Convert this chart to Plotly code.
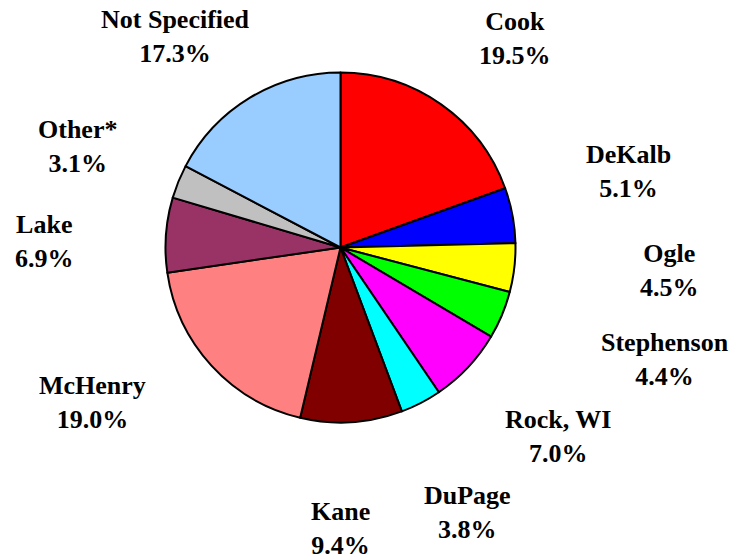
import math
import plotly.graph_objects as go

# ---- data ----
counties = ["Cook", "DeKalb", "Ogle", "Stephenson", "Rock, WI", "DuPage",
            "Kane", "McHenry", "Lake", "Other*", "Not Specified"]
shares = [19.5, 5.1, 4.5, 4.4, 7.0, 3.8, 9.4, 19.0, 6.9, 3.1, 17.3]
colors = ["#FF0000", "#0000FF", "#FFFF00", "#00FF00", "#FF00FF", "#00FFFF",
          "#800000", "#FF8080", "#993366", "#C0C0C0", "#99CCFF"]

# ---- layout / styling (label placement relative to slice mid-angle) ----
W, H = 731, 560
cx_px, cy_px, R = 340.5, 247.5, 175.0
label_angle_nudge = [4.7, -4.1, -2.6, -3.6, -2.2, 1.7, 3.5, 10.6, -3.0, -1.1, -6.9]
label_dist = [1.558, 1.704, 1.885, 1.960, 1.650, 1.678, 1.605, 1.672, 1.691, 1.611, 1.529]

fig = go.Figure(go.Pie(
    labels=counties,
    values=shares,
    sort=False,
    direction="clockwise",
    rotation=0,
    marker=dict(colors=colors, line=dict(color="black", width=2)),
    textinfo="none",
    hoverinfo="label+percent",
    showlegend=False,
    domain=dict(x=[(cx_px - R) / W, (cx_px + R) / W],
                y=[(H - cy_px - R) / H, (H - cy_px + R) / H]),
))

total = sum(shares)
annotations = []
cum = 0.0
for name, v, nud, dist in zip(counties, shares, label_angle_nudge, label_dist):
    mid = (cum + v / 2) / total * 360.0 + nud
    cum += v
    th = math.radians(mid)
    px = cx_px + dist * R * math.sin(th)
    py = cy_px - dist * R * math.cos(th)
    annotations.append(dict(
        x=px / W, y=(H - py) / H, xref="paper", yref="paper",
        text=f"<b>{name}</b><br><b>{v / total * 100:.1f}%</b>",
        showarrow=False, xanchor="center", yanchor="middle", align="center",
        font=dict(family="Liberation Serif, Times New Roman, serif", size=26, color="black"),
    ))

fig.update_layout(
    width=W, height=H,
    margin=dict(l=0, r=0, t=0, b=0),
    paper_bgcolor="white", plot_bgcolor="white",
    annotations=annotations,
)

fig.write_html(
    "out.html",
    config={"displayModeBar": False},
    post_script="document.body.style.margin='0';document.body.style.padding='0';",
)
